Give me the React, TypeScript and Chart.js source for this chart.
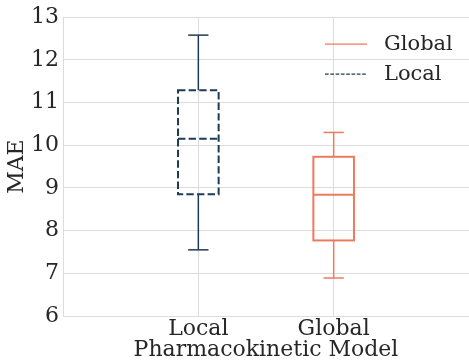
import React, { useEffect, useRef } from 'react';
import { Chart, registerables } from 'chart.js';

Chart.register(...registerables);

// ---- data ----
const categories = ['Local', 'Global'];
const positions = [1, 2];
const whiskerLow = [7.55, 6.89];
const q1 = [8.85, 7.77];
const median = [10.15, 8.84];
const q3 = [11.29, 9.73];
const whiskerHigh = [12.58, 10.3];
const yTicks = [6, 7, 8, 9, 10, 11, 12, 13];
const legendOrder = ['Global', 'Local'];
const xAxisTitle = 'Pharmacokinetic Model';
const yAxisTitle = 'MAE';

// ---- styles ----
const FONT = "'DejaVu Serif', serif";
const FONT_SIZE = 22;
const LEGEND_FONT_SIZE = 21;
const TEXT = '#262626';
const GRID = '#dcdcdc';
const BOX_WIDTH = 0.3;
const CAP_WIDTH = 0.15;
const seriesStyle: Record<string, { color: string; dash: number[]; legendDash: number[] }> = {
  Local: { color: '#1f3a56', dash: [7.4, 3.2], legendDash: [3.7, 1.6] },
  Global: { color: '#ec7b5d', dash: [], legendDash: [] },
};

const boxPlugin = {
  id: 'boxplot',
  afterDatasetsDraw(chart: any) {
    const { ctx, scales } = chart;
    const x = scales.x;
    const y = scales.y;
    const line = (x1: number, y1: number, x2: number, y2: number) => {
      ctx.beginPath();
      ctx.moveTo(x1, y1);
      ctx.lineTo(x2, y2);
      ctx.stroke();
    };
    categories.forEach((cat, i) => {
      const st = seriesStyle[cat];
      const cx = x.getPixelForValue(positions[i]);
      const half = x.getPixelForValue(positions[i] + BOX_WIDTH / 2) - cx;
      const capHalf = x.getPixelForValue(positions[i] + CAP_WIDTH / 2) - cx;
      const pLow = y.getPixelForValue(whiskerLow[i]);
      const pQ1 = y.getPixelForValue(q1[i]);
      const pMed = y.getPixelForValue(median[i]);
      const pQ3 = y.getPixelForValue(q3[i]);
      const pHigh = y.getPixelForValue(whiskerHigh[i]);
      ctx.save();
      ctx.strokeStyle = st.color;
      ctx.lineWidth = 1.5;
      ctx.setLineDash([]);
      line(cx, pQ3, cx, pHigh);
      line(cx, pQ1, cx, pLow);
      line(cx - capHalf, pHigh, cx + capHalf, pHigh);
      line(cx - capHalf, pLow, cx + capHalf, pLow);
      ctx.lineWidth = 2;
      ctx.setLineDash(st.dash);
      ctx.strokeRect(cx - half, pQ3, 2 * half, pQ1 - pQ3);
      line(cx - half, pMed, cx + half, pMed);
      ctx.restore();
    });
  },
};

const legendPlugin = {
  id: 'customLegend',
  afterDraw(chart: any) {
    const { ctx, chartArea } = chart;
    const x0 = chartArea.right - 144;
    const y0 = chartArea.top + 27;
    const rowH = 30;
    ctx.save();
    ctx.font = `${LEGEND_FONT_SIZE}px ${FONT}`;
    ctx.textBaseline = 'middle';
    ctx.textAlign = 'left';
    legendOrder.forEach((name, i) => {
      const st = seriesStyle[name];
      const yy = y0 + i * rowH;
      ctx.strokeStyle = st.color;
      ctx.lineWidth = 1.2;
      ctx.setLineDash(st.legendDash);
      ctx.beginPath();
      ctx.moveTo(x0, yy);
      ctx.lineTo(x0 + 42, yy);
      ctx.stroke();
      ctx.setLineDash([]);
      ctx.fillStyle = TEXT;
      ctx.fillText(name, x0 + 59, yy);
    });
    ctx.restore();
  },
};

export default function App() {
  const ref = useRef<HTMLCanvasElement>(null);
  useEffect(() => {
    if (!ref.current) return;
    const chart = new Chart(ref.current, {
      type: 'scatter',
      data: {
        datasets: categories.map((cat, i) => ({
          label: cat,
          data: [{ x: positions[i], y: median[i] }],
          pointRadius: 0,
          showLine: false,
          borderColor: seriesStyle[cat].color,
        })),
      },
      options: {
        animation: false,
        responsive: false,
        events: [],
        layout: { padding: { top: 17, right: -1, bottom: 0, left: 0 } },
        plugins: {
          legend: { display: false },
          tooltip: { enabled: false },
        },
        scales: {
          x: {
            type: 'linear',
            min: 0,
            max: 3,
            afterBuildTicks: (axis: any) => {
              axis.ticks = positions.map((v) => ({ value: v }));
            },
            afterFit: (axis: any) => {
              axis.height = 46;
            },
            ticks: {
              autoSkip: false,
              maxRotation: 0,
              padding: 0,
              color: TEXT,
              font: { family: FONT, size: FONT_SIZE, lineHeight: 1.2 },
              callback: (v: any) => {
                const idx = positions.indexOf(Number(v));
                return idx >= 0 ? categories[idx] : '';
              },
            },
            grid: { color: GRID, lineWidth: 1, drawTicks: false },
            border: { display: true, color: GRID, width: 1 },
            title: {
              display: true,
              text: xAxisTitle,
              color: TEXT,
              font: { family: FONT, size: FONT_SIZE, lineHeight: 1 },
              padding: { top: 0, bottom: 1 },
            },
          },
          y: {
            type: 'linear',
            min: yTicks[0],
            max: yTicks[yTicks.length - 1],
            afterBuildTicks: (axis: any) => {
              axis.ticks = yTicks.map((v) => ({ value: v }));
            },
            afterFit: (axis: any) => {
              axis.width = 63;
            },
            ticks: {
              padding: 4,
              color: TEXT,
              font: { family: FONT, size: FONT_SIZE },
            },
            grid: { color: GRID, lineWidth: 1, drawTicks: false },
            border: { display: true, color: GRID, width: 1 },
            title: {
              display: true,
              text: yAxisTitle,
              color: TEXT,
              font: { family: FONT, size: FONT_SIZE, lineHeight: 1.2 },
              padding: { top: 4, bottom: 0 },
            },
          },
        },
      },
      plugins: [boxPlugin, legendPlugin],
    } as any);
    return () => chart.destroy();
  }, []);
  return (
    <div style={{ position: 'fixed', left: 0, top: 0, width: 469, height: 362, background: '#fff' }}>
      <canvas ref={ref} width={469} height={362} />
    </div>
  );
}
